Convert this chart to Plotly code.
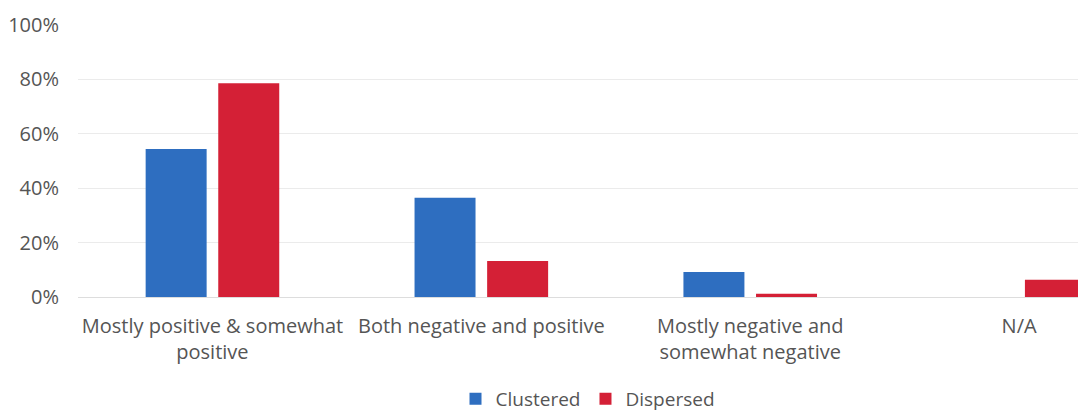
import plotly.graph_objects as go

categories = ["Mostly positive & somewhat<br>positive", "Both negative and positive",
              "Mostly negative and<br>somewhat negative", "N/A"]
clustered = [54.4, 36.5, 9.2, 0]
dispersed = [78.6, 13.2, 1.2, 6.3]
tick_vals = [0, 20, 40, 60, 80, 100]
tick_text = ["0%", "20%", "40%", "60%", "80%", "100%"]

BLUE = "#2E6EC0"
RED = "#D42036"
FONT = "Open Sans, Liberation Sans, sans-serif"
TXT = "#555555"

fig = go.Figure()
fig.add_trace(go.Bar(name="Clustered", x=list(range(4)), y=clustered, marker_color=BLUE,
                     marker_line_width=0))
fig.add_trace(go.Bar(name="Dispersed", x=list(range(4)), y=dispersed, marker_color=RED,
                     marker_line_width=0))

fig.update_layout(
    width=1078, height=416,
    margin=dict(l=78, r=0, t=25, b=119, autoexpand=False),
    paper_bgcolor="white", plot_bgcolor="white",
    barmode="group", bargap=0.46, bargroupgap=0.16,
    font=dict(family=FONT, size=20, color=TXT),
    showlegend=True,
    legend=dict(orientation="h", x=0.51, xanchor="center", y=-0.375, yanchor="middle",
                font=dict(size=19, color=TXT), itemwidth=30, traceorder="normal"),
    xaxis=dict(range=[-0.5, 3.219], tickmode="array", tickvals=list(range(4)),
               ticktext=categories, showgrid=False, zeroline=False, showline=False,
               automargin=False,
               tickfont=dict(size=20, color=TXT), ticks="outside", ticklen=11, tickcolor="rgba(0,0,0,0)"),
    yaxis=dict(range=[0, 100], tickmode="array", tickvals=tick_vals, ticktext=tick_text,
               showgrid=True, gridcolor="#EBEBEB", gridwidth=1, zeroline=True,
               zerolinecolor="#DDDDDD", zerolinewidth=1, showline=False, automargin=False,
               tickfont=dict(size=20, color=TXT), ticklabelstandoff=18),
)

fig.write_html("out.html")
